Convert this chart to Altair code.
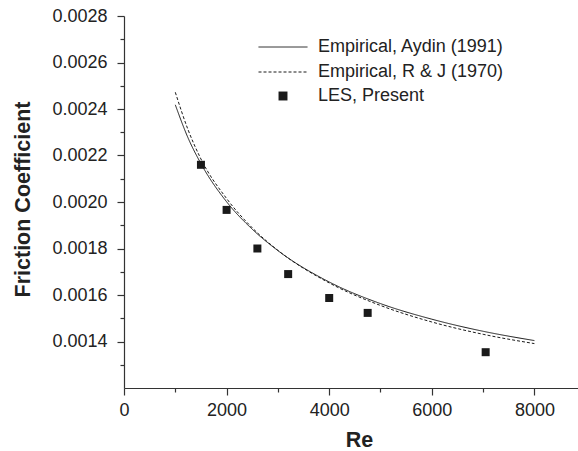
import altair as alt
import pandas as pd

# ---- data ----
re_curve = [1000, 1250, 1500, 2000, 2500, 3000, 4000, 5000, 6000, 7000, 8000]
cf_aydin = [0.002418, 0.002275, 0.002165, 0.002001, 0.001883, 0.001791,
            0.001656, 0.001563, 0.001496, 0.001444, 0.001404]
cf_rj = [0.002472, 0.002310, 0.002185, 0.002015, 0.001889, 0.001792,
         0.001652, 0.001555, 0.001484, 0.001431, 0.001391]

re_les = [1500, 2000, 2600, 3200, 4000, 4750, 7050]
cf_les = [0.002160, 0.001966, 0.001800, 0.001690, 0.001587, 0.001523, 0.001354]

name_aydin = "Empirical, Aydin (1991)"
name_rj = "Empirical, R & J (1970)"
name_les = "LES, Present"

x_major = [0, 2000, 4000, 6000, 8000]
x_minor = [1000, 3000, 5000, 7000]
y_major = [0.0014, 0.0016, 0.0018, 0.0020, 0.0022, 0.0024, 0.0026, 0.0028]
y_minor = [0.0013, 0.0015, 0.0017, 0.0019, 0.0021, 0.0023, 0.0025, 0.0027]

curves = pd.DataFrame({
    "Re": re_curve + re_curve,
    "Cf": cf_aydin + cf_rj,
    "curve": [name_aydin] * len(re_curve) + [name_rj] * len(re_curve),
})
les = pd.DataFrame({"Re": re_les, "Cf": cf_les, "set": [name_les] * len(re_les)})

INK = "#1a1a1a"
AX = "#333333"
FONT = "Liberation Sans"

xscale = alt.Scale(domain=[0, 8850], nice=False, zero=False)
yscale = alt.Scale(domain=[0.0012, 0.0028], nice=False, zero=False)

x_axis_major = alt.Axis(
    values=x_major, format="d", tickSize=7, tickColor=AX, tickWidth=1.2,
    domainColor=AX, domainWidth=1.2, grid=False,
    labelFont=FONT, labelFontSize=18, labelColor="#222222", labelPadding=6,
    labelFlush=False, labelOverlap=False,
    title="Re", titleFont=FONT, titleFontSize=21.5, titleFontWeight="bold",
    titleColor="#222222", titleX=235, titleY=58, titleBaseline="alphabetic",
    titleAlign="center",
)
y_axis_major = alt.Axis(
    values=y_major, format=".4f", tickSize=7, tickColor=AX, tickWidth=1.2,
    domainColor=AX, domainWidth=1.2, grid=False,
    labelFont=FONT, labelFontSize=18, labelColor="#222222", labelPadding=10,
    labelFlush=False, labelOverlap=False,
    title="Friction Coefficient", titleFont=FONT, titleFontSize=21.5,
    titleFontWeight="bold", titleColor="#222222", titleAngle=270,
    titleX=-95, titleY=183, titleBaseline="alphabetic", titleAlign="center",
)
x_axis_minor = alt.Axis(
    values=x_minor, orient="bottom", tickSize=4, tickColor=AX, tickWidth=1.2,
    domain=False, labels=False, grid=False, title=None,
)
y_axis_minor = alt.Axis(
    values=y_minor, orient="left", tickSize=4, tickColor=AX, tickWidth=1.2,
    domain=False, labels=False, grid=False, title=None,
)

lines = alt.Chart(curves).mark_line(
    color=INK, strokeWidth=1, interpolate="monotone"
).encode(
    x=alt.X("Re:Q", scale=xscale, axis=x_axis_major),
    y=alt.Y("Cf:Q", scale=yscale, axis=y_axis_major),
    strokeDash=alt.StrokeDash(
        "curve:N",
        scale=alt.Scale(domain=[name_aydin, name_rj], range=[[1, 0], [3, 2]]),
        legend=alt.Legend(
            title=None, orient="none", legendX=150, legendY=22, padding=0,
            rowPadding=7, symbolType="M-4,0H4", symbolSize=150,
            symbolStrokeColor=INK, symbolStrokeWidth=1, symbolOffset=0,
            labelOffset=26, labelFont=FONT, labelFontSize=18,
            labelColor="#222222", labelLimit=400,
        ),
    ),
)

points = alt.Chart(les).mark_point(
    filled=True, size=64, color=INK, opacity=1
).encode(
    x=alt.X("Re:Q", scale=xscale, axis=x_axis_minor),
    y=alt.Y("Cf:Q", scale=yscale, axis=y_axis_minor),
    shape=alt.Shape(
        "set:N",
        scale=alt.Scale(domain=[name_les], range=["square"]),
        legend=alt.Legend(
            title=None, orient="none", legendX=150, legendY=71, padding=0,
            symbolType="square", symbolSize=80, symbolFillColor=INK,
            symbolStrokeWidth=0, symbolOffset=0, labelOffset=26,
            labelFont=FONT, labelFontSize=18, labelColor="#222222",
            labelLimit=400,
        ),
    ),
)

chart = alt.layer(lines, points).resolve_axis(
    x="independent", y="independent"
).properties(
    width=454, height=372,
    autosize=alt.AutoSizeParams(type="none"),
    padding={"left": 124, "top": 16, "right": 0, "bottom": 63},
    background="white",
).configure_view(stroke=None)

chart.save("out.html", embed_options={"renderer": "svg", "actions": False})
